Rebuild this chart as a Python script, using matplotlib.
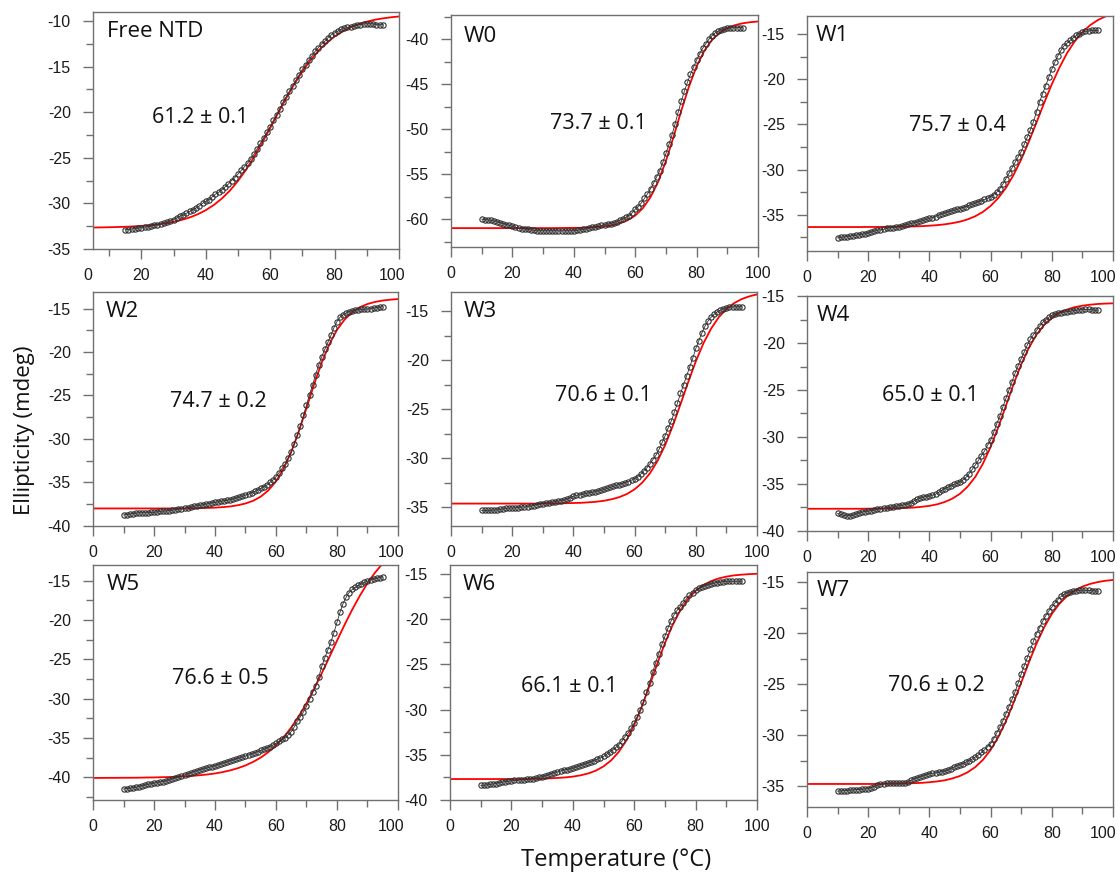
import numpy as np
import matplotlib
matplotlib.use('Agg')
import matplotlib.pyplot as plt
import matplotlib.transforms as mtransforms
from matplotlib.ticker import MultipleLocator

plt.rcParams['axes.unicode_minus'] = False
plt.rcParams['font.family'] = ['Liberation Sans', 'DejaVu Sans']

# ---- data ----
names = ["Free NTD", "W0", "W1", "W2", "W3", "W4", "W5", "W6", "W7"]
tm_text = ["61.2 \u00b1 0.1", "73.7 \u00b1 0.1", "75.7 \u00b1 0.4",
           "74.7 \u00b1 0.2", "70.6 \u00b1 0.1", "65.0 \u00b1 0.1",
           "76.6 \u00b1 0.5", "66.1 \u00b1 0.1", "70.6 \u00b1 0.2"]

# temperature grids (deg C)
t_free = list(range(15, 96))
t_data = list(range(10, 96))
t_fit_free = np.arange(5, 100.01, 2.5)
t_fit = np.arange(0, 100.01, 2.5)

free_data = [-32.9, -32.9, -32.8, -32.8, -32.7, -32.7, -32.6, -32.6, -32.5, -32.4,
             -32.4, -32.3, -32.2, -32.1, -31.9, -31.8, -31.6, -31.4, -31.3, -31.1,
             -30.9, -30.7, -30.5, -30.3, -30.0, -29.8, -29.6, -29.3, -29.0, -28.8,
             -28.5, -28.2, -27.9, -27.5, -27.2, -26.8, -26.4, -26.0, -25.6, -25.1,
             -24.6, -24.0, -23.4, -22.8, -22.2, -21.6, -20.9, -20.3, -19.6, -18.9,
             -18.3, -17.7, -17.1, -16.5, -15.9, -15.3, -14.8, -14.3, -13.8, -13.3,
             -12.9, -12.5, -12.2, -11.8, -11.5, -11.3, -11.1, -10.9, -10.8, -10.7,
             -10.6, -10.5, -10.4, -10.4, -10.3, -10.3, -10.3, -10.3, -10.4, -10.4, -10.4]
free_fit = [-32.66, -32.65, -32.63, -32.61, -32.58, -32.54, -32.48, -32.42, -32.32, -32.20,
            -32.04, -31.83, -31.56, -31.21, -30.76, -30.19, -29.48, -28.61, -27.55, -26.33,
            -24.92, -23.37, -21.75, -20.08, -18.45, -16.91, -15.52, -14.30, -13.24, -12.39,
            -11.69, -11.12, -10.68, -10.33, -10.06, -9.85, -9.70, -9.58, -9.49]

w0_data = [-60.0, -60.05, -60.1, -60.15, -60.2, -60.3, -60.4, -60.5, -60.6, -60.7,
           -60.8, -60.9, -61.0, -61.05, -61.1, -61.15, -61.2, -61.25, -61.3, -61.3,
           -61.3, -61.3, -61.3, -61.3, -61.3, -61.3, -61.3, -61.3, -61.3, -61.3,
           -61.3, -61.25, -61.2, -61.15, -61.1, -61.0, -60.9, -60.85, -60.8, -60.7,
           -60.6, -60.55, -60.5, -60.4, -60.3, -60.1, -60.0, -59.8, -59.6, -59.3,
           -58.9, -58.6, -58.2, -57.7, -57.2, -56.6, -56.0, -55.3, -54.6, -53.7,
           -52.7, -51.7, -50.6, -49.4, -48.1, -46.9, -45.8, -44.8, -43.9, -43.1,
           -42.3, -41.6, -41.0, -40.5, -40.0, -39.6, -39.3, -39.1, -38.95, -38.85,
           -38.8, -38.75, -38.7, -38.7, -38.7, -38.75]
w0_fit = [-61.0, -61.0, -61.0, -61.0, -61.0, -61.0, -61.0, -61.0, -61.0, -61.0,
          -61.0, -61.0, -61.0, -61.0, -60.99, -60.98, -60.97, -60.96, -60.93, -60.88,
          -60.80, -60.67, -60.46, -60.13, -59.60, -58.78, -57.55, -55.83, -53.54, -50.84,
          -47.95, -45.27, -43.01, -41.29, -40.07, -39.29, -38.76, -38.43, -38.22, -38.10, -38.02]

w1_data = [-37.55, -37.5, -37.45, -37.4, -37.35, -37.3, -37.25, -37.2, -37.15, -37.1,
           -37.0, -36.9, -36.8, -36.7, -36.65, -36.6, -36.5, -36.45, -36.4, -36.35,
           -36.3, -36.2, -36.1, -36.05, -35.95, -35.9, -35.8, -35.7, -35.6, -35.5,
           -35.4, -35.3, -35.2, -35.0, -34.9, -34.8, -34.7, -34.6, -34.5, -34.4,
           -34.3, -34.2, -34.1, -33.95, -33.85, -33.7, -33.55, -33.45, -33.3, -33.15,
           -33.0, -32.75, -32.5, -32.1, -31.6, -31.0, -30.4, -29.8, -29.2, -28.6,
           -28.0, -27.2, -26.4, -25.6, -24.7, -23.6, -22.5, -21.6, -20.7, -19.8,
           -18.9, -18.1, -17.4, -16.8, -16.3, -16.0, -15.7, -15.4, -15.15, -14.95,
           -14.8, -14.7, -14.65, -14.6, -14.6, -14.6]
w1_fit = [-36.35, -36.35, -36.35, -36.35, -36.35, -36.35, -36.35, -36.35, -36.34, -36.34,
          -36.33, -36.33, -36.31, -36.30, -36.28, -36.25, -36.20, -36.14, -36.05, -35.92,
          -35.75, -35.50, -35.15, -34.67, -34.01, -33.14, -32.02, -30.59, -28.87, -26.90,
          -24.78, -22.62, -20.55, -18.70, -17.09, -15.80, -14.80, -14.02, -13.46, -13.05, -12.73]

w2_data = [-38.75, -38.7, -38.65, -38.6, -38.55, -38.5, -38.5, -38.5, -38.5, -38.45,
           -38.45, -38.4, -38.35, -38.3, -38.3, -38.25, -38.2, -38.15, -38.1, -38.05,
           -38.0, -37.9, -37.85, -37.75, -37.7, -37.65, -37.6, -37.5, -37.45, -37.35,
           -37.3, -37.25, -37.2, -37.1, -37.05, -37.0, -36.9, -36.8, -36.7, -36.6,
           -36.45, -36.35, -36.2, -36.05, -35.9, -35.7, -35.5, -35.3, -35.0, -34.7,
           -34.35, -33.9, -33.4, -32.9, -32.2, -31.5, -30.6, -29.6, -28.5, -27.3,
           -26.1, -24.9, -23.8, -22.6, -21.5, -20.55, -19.7, -18.9, -18.1, -17.2,
           -16.5, -16.0, -15.7, -15.5, -15.35, -15.25, -15.2, -15.15, -15.1, -15.1,
           -15.05, -15.0, -14.95, -14.9, -14.85, -14.8]
w2_fit = [-38.0, -38.0, -38.0, -38.0, -38.0, -38.0, -38.0, -38.0, -38.0, -38.0,
          -38.0, -38.0, -37.99, -37.98, -37.96, -37.94, -37.91, -37.85, -37.77, -37.63,
          -37.43, -37.12, -36.64, -35.92, -34.88, -33.42, -31.49, -29.12, -26.45, -23.72,
          -21.20, -19.10, -17.45, -16.27, -15.42, -14.85, -14.48, -14.24, -14.08, -13.98, -13.91]

w3_data = [-35.35, -35.35, -35.35, -35.35, -35.3, -35.3, -35.25, -35.2, -35.15, -35.1,
           -35.1, -35.1, -35.05, -35.0, -35.0, -34.95, -34.9, -34.85, -34.75, -34.7,
           -34.65, -34.6, -34.55, -34.5, -34.45, -34.4, -34.35, -34.3, -34.2, -34.05,
           -33.9, -33.8, -33.75, -33.7, -33.6, -33.55, -33.5, -33.45, -33.35, -33.3,
           -33.2, -33.1, -33.0, -32.9, -32.8, -32.7, -32.6, -32.5, -32.4, -32.25,
           -32.1, -31.9, -31.65, -31.3, -31.0, -30.6, -30.15, -29.7, -29.1, -28.4,
           -27.7, -26.9, -26.2, -25.3, -24.4, -23.4, -22.5, -21.6, -20.7, -19.8,
           -18.8, -18.0, -17.2, -16.5, -16.0, -15.6, -15.3, -15.05, -14.9, -14.75,
           -14.65, -14.6, -14.55, -14.55, -14.55, -14.55]
w3_fit = [-34.65, -34.65, -34.65, -34.65, -34.65, -34.65, -34.65, -34.65, -34.65, -34.65,
          -34.65, -34.65, -34.64, -34.64, -34.63, -34.61, -34.59, -34.57, -34.52, -34.46,
          -34.36, -34.21, -33.99, -33.67, -33.19, -32.51, -31.56, -30.29, -28.66, -26.69,
          -24.50, -22.25, -20.12, -18.27, -16.77, -15.61, -14.77, -14.17, -13.75, -13.47, -13.28]

w4_data = [-38.15, -38.25, -38.35, -38.4, -38.4, -38.35, -38.2, -38.1, -38.0, -37.95,
           -37.9, -37.85, -37.8, -37.7, -37.65, -37.6, -37.55, -37.5, -37.45, -37.4,
           -37.35, -37.3, -37.2, -37.15, -37.0, -36.8, -36.65, -36.5, -36.4, -36.35,
           -36.3, -36.2, -36.1, -35.9, -35.7, -35.5, -35.35, -35.2, -35.05, -34.95,
           -34.8, -34.55, -34.3, -33.9, -33.45, -33.0, -32.5, -32.0, -31.5, -30.9,
           -30.35, -29.5, -28.6, -27.8, -26.8, -25.9, -25.0, -24.1, -23.2, -22.4,
           -21.65, -20.95, -20.2, -19.6, -19.1, -18.65, -18.2, -17.8, -17.5, -17.25,
           -17.05, -16.9, -16.8, -16.75, -16.7, -16.65, -16.6, -16.55, -16.5, -16.45,
           -16.45, -16.4, -16.4, -16.45, -16.5, -16.5]
w4_fit = [-37.65, -37.65, -37.65, -37.65, -37.65, -37.65, -37.65, -37.65, -37.64, -37.63,
          -37.62, -37.61, -37.59, -37.56, -37.52, -37.44, -37.34, -37.18, -36.93, -36.57,
          -36.05, -35.29, -34.25, -32.84, -31.07, -28.97, -26.68, -24.38, -22.28, -20.51,
          -19.10, -18.05, -17.30, -16.77, -16.42, -16.17, -16.01, -15.91, -15.83, -15.79, -15.76]

w5_data = [-41.5, -41.45, -41.4, -41.35, -41.3, -41.2, -41.1, -41.0, -40.9, -40.85,
           -40.75, -40.7, -40.6, -40.55, -40.45, -40.35, -40.2, -40.1, -39.95, -39.85,
           -39.7, -39.6, -39.45, -39.3, -39.2, -39.05, -38.95, -38.85, -38.75, -38.65,
           -38.55, -38.4, -38.3, -38.15, -38.05, -37.9, -37.8, -37.65, -37.55, -37.45,
           -37.3, -37.15, -37.05, -36.9, -36.75, -36.6, -36.45, -36.3, -36.1, -35.9,
           -35.7, -35.45, -35.2, -34.95, -34.6, -34.2, -33.6, -32.9, -32.3, -31.7,
           -31.0, -30.1, -29.2, -28.4, -27.3, -25.9, -24.8, -23.8, -22.8, -21.6,
           -20.3, -19.0, -17.9, -17.1, -16.5, -16.1, -15.85, -15.6, -15.4, -15.2,
           -15.05, -14.9, -14.8, -14.7, -14.6, -14.5]
w5_fit = [-40.09, -40.09, -40.08, -40.08, -40.07, -40.07, -40.06, -40.04, -40.03, -40.00,
          -39.98, -39.94, -39.89, -39.83, -39.75, -39.65, -39.52, -39.35, -39.13, -38.85,
          -38.50, -38.05, -37.50, -36.80, -35.95, -34.91, -33.67, -32.23, -30.59, -28.76,
          -26.78, -24.72, -22.63, -20.59, -18.67, -16.90, -15.32, -13.95, -12.80, -11.83, -11.03]

w6_data = [-38.4, -38.4, -38.35, -38.3, -38.25, -38.2, -38.1, -38.05, -38.0, -37.95,
           -37.9, -37.85, -37.85, -37.8, -37.8, -37.75, -37.7, -37.65, -37.6, -37.5,
           -37.45, -37.35, -37.25, -37.1, -37.0, -36.9, -36.8, -36.7, -36.65, -36.6,
           -36.5, -36.4, -36.3, -36.15, -36.05, -35.9, -35.8, -35.65, -35.5, -35.35,
           -35.2, -34.95, -34.7, -34.45, -34.2, -33.9, -33.5, -33.0, -32.6, -32.1,
           -31.5, -30.8, -30.0, -29.2, -28.1, -27.05, -25.9, -24.8, -23.8, -22.8,
           -21.9, -21.0, -20.2, -19.5, -19.0, -18.6, -18.2, -17.75, -17.35, -17.05,
           -16.8, -16.6, -16.45, -16.3, -16.2, -16.1, -16.0, -15.95, -15.9, -15.85,
           -15.8, -15.8, -15.8, -15.8, -15.8, -15.8]
w6_fit = [-37.7, -37.7, -37.7, -37.7, -37.7, -37.7, -37.7, -37.7, -37.7, -37.7,
          -37.7, -37.67, -37.65, -37.62, -37.58, -37.52, -37.43, -37.29, -37.08, -36.77,
          -36.30, -35.63, -34.68, -33.40, -31.72, -29.67, -27.36, -24.95, -22.66, -20.66,
          -19.03, -17.78, -16.87, -16.23, -15.79, -15.49, -15.29, -15.15, -15.07, -15.01, -14.97]

w7_data = [-35.5, -35.5, -35.45, -35.45, -35.4, -35.4, -35.35, -35.35, -35.3, -35.3,
           -35.25, -35.15, -35.05, -34.95, -34.85, -34.8, -34.75, -34.7, -34.7, -34.7,
           -34.7, -34.7, -34.7, -34.6, -34.45, -34.3, -34.2, -34.1, -34.0, -33.9,
           -33.8, -33.75, -33.7, -33.65, -33.6, -33.55, -33.45, -33.3, -33.15, -33.0,
           -32.9, -32.8, -32.65, -32.5, -32.35, -32.15, -31.95, -31.7, -31.45, -31.15,
           -30.85, -30.35, -29.8, -29.25, -28.6, -27.9, -27.2, -26.5, -25.75, -24.9,
           -24.0, -23.2, -22.4, -21.6, -20.8, -20.05, -19.45, -18.85, -18.3, -17.85,
           -17.45, -17.05, -16.7, -16.4, -16.2, -16.05, -15.95, -15.9, -15.85, -15.8,
           -15.8, -15.8, -15.8, -15.85, -15.85, -15.9]
w7_fit = [-34.8, -34.8, -34.8, -34.8, -34.8, -34.8, -34.8, -34.8, -34.8, -34.8,
          -34.78, -34.78, -34.77, -34.75, -34.72, -34.69, -34.63, -34.55, -34.44, -34.26,
          -34.01, -33.65, -33.14, -32.43, -31.46, -30.20, -28.65, -26.83, -24.86, -22.88,
          -21.03, -19.43, -18.12, -17.11, -16.36, -15.82, -15.43, -15.17, -14.99, -14.86, -14.78]

data_sets = [free_data, w0_data, w1_data, w2_data, w3_data, w4_data, w5_data, w6_data, w7_data]
fit_sets = [free_fit, w0_fit, w1_fit, w2_fit, w3_fit, w4_fit, w5_fit, w6_fit, w7_fit]

# ---- layout (pixel boxes: left, top, right, bottom) and axis ranges ----
W, H = 1120, 873
boxes = [(93, 12, 399, 249), (451, 15, 758, 247), (807, 16, 1113, 251),
         (93, 292, 398, 526), (451, 292, 757, 526), (807, 296, 1113, 531),
         (93, 565, 398, 800), (450, 565, 757, 800), (807, 572, 1113, 807)]
ylims = [(-35.02, -9.0), (-63.1, -37.3), (-39.0, -13.0),
         (-40.02, -13.1), (-36.94, -13.03), (-40.02, -14.98),
         (-42.9, -13.0), (-40.02, -14.0), (-37.06, -14.0)]
label_pos = [(0.046, 0.917), (0.040, 0.906), (0.029, 0.919),
             (0.042, 0.915), (0.041, 0.915), (0.030, 0.918),
             (0.044, 0.919), (0.042, 0.915), (0.030, 0.922)]
tm_pos = [(0.35, 0.554), (0.48, 0.533), (0.491, 0.536),
          (0.41, 0.531), (0.497, 0.559), (0.403, 0.577),
          (0.417, 0.518), (0.388, 0.482), (0.423, 0.518)]
# shift (px) of the last "100" label, per column
last_shift = [-6.5, 0, -10]

spine_col = '#707070'
txt_font = ['Open Sans', 'DejaVu Sans']

fig = plt.figure(figsize=(W / 100, H / 100), dpi=100)

for i in range(9):
    x0, y0, x1, y1 = boxes[i]
    ax = fig.add_axes([x0 / W, 1 - y1 / H, (x1 - x0) / W, (y1 - y0) / H])

    if i == 0:
        tf, td = t_fit_free, t_free
        ax.set_xlim(5, 100)
        ax.set_xticks([20, 40, 60, 80, 100])
        ax.annotate('0', xy=(0, 0), xycoords='axes fraction', xytext=(-3.5, -14),
                    textcoords='offset points', ha='center', va='top',
                    fontsize=11.5, color='#1a1a1a')
    else:
        tf, td = t_fit, t_data
        ax.set_xlim(0, 100)
        ax.set_xticks([0, 20, 40, 60, 80, 100])
    ax.plot(tf, fit_sets[i], color='#ff0000', lw=1.3, zorder=2)
    ax.plot(td, data_sets[i], ls='-', lw=0.6, color='#303030',
            marker='o', ms=3.8, mfc='none', mec='#303030', mew=0.8, zorder=3)
    ax.set_xticks([10, 30, 50, 70, 90], minor=True)
    ax.set_ylim(*ylims[i])
    ax.yaxis.set_major_locator(MultipleLocator(5))
    ax.yaxis.set_minor_locator(MultipleLocator(2.5))

    for s in ax.spines.values():
        s.set_color(spine_col)
        s.set_linewidth(1.0)
    ax.tick_params(which='major', length=7, width=1.0, color=spine_col,
                   labelsize=11.5, labelcolor='#1a1a1a')
    ax.tick_params(which='minor', length=5, width=1.0, color=spine_col)
    ax.tick_params(axis='x', which='major', pad=7)
    ax.tick_params(axis='y', which='major', pad=9)

    shift = last_shift[i % 3]
    if shift:
        lab = ax.get_xticklabels()[-1]
        lab.set_transform(lab.get_transform() +
                          mtransforms.ScaledTranslation(shift / 100, 0, fig.dpi_scale_trans))

    ax.text(label_pos[i][0], label_pos[i][1], names[i], transform=ax.transAxes,
            ha='left', va='center', fontsize=16, family=txt_font, color='#111111')
    ax.text(tm_pos[i][0], tm_pos[i][1], tm_text[i], transform=ax.transAxes,
            ha='center', va='center', fontsize=15.5, family=txt_font, color='#111111')

fig.text(25 / W, 1 - 430 / H, 'Ellipticity (mdeg)', rotation=90, ha='center',
         va='center', fontsize=16, family=txt_font, color='#111111')
fig.text(616 / W, 1 - 860 / H, 'Temperature (\u00b0C)', ha='center',
         va='center', fontsize=17, family=txt_font, color='#111111')

fig.savefig('out.png', dpi=100)
